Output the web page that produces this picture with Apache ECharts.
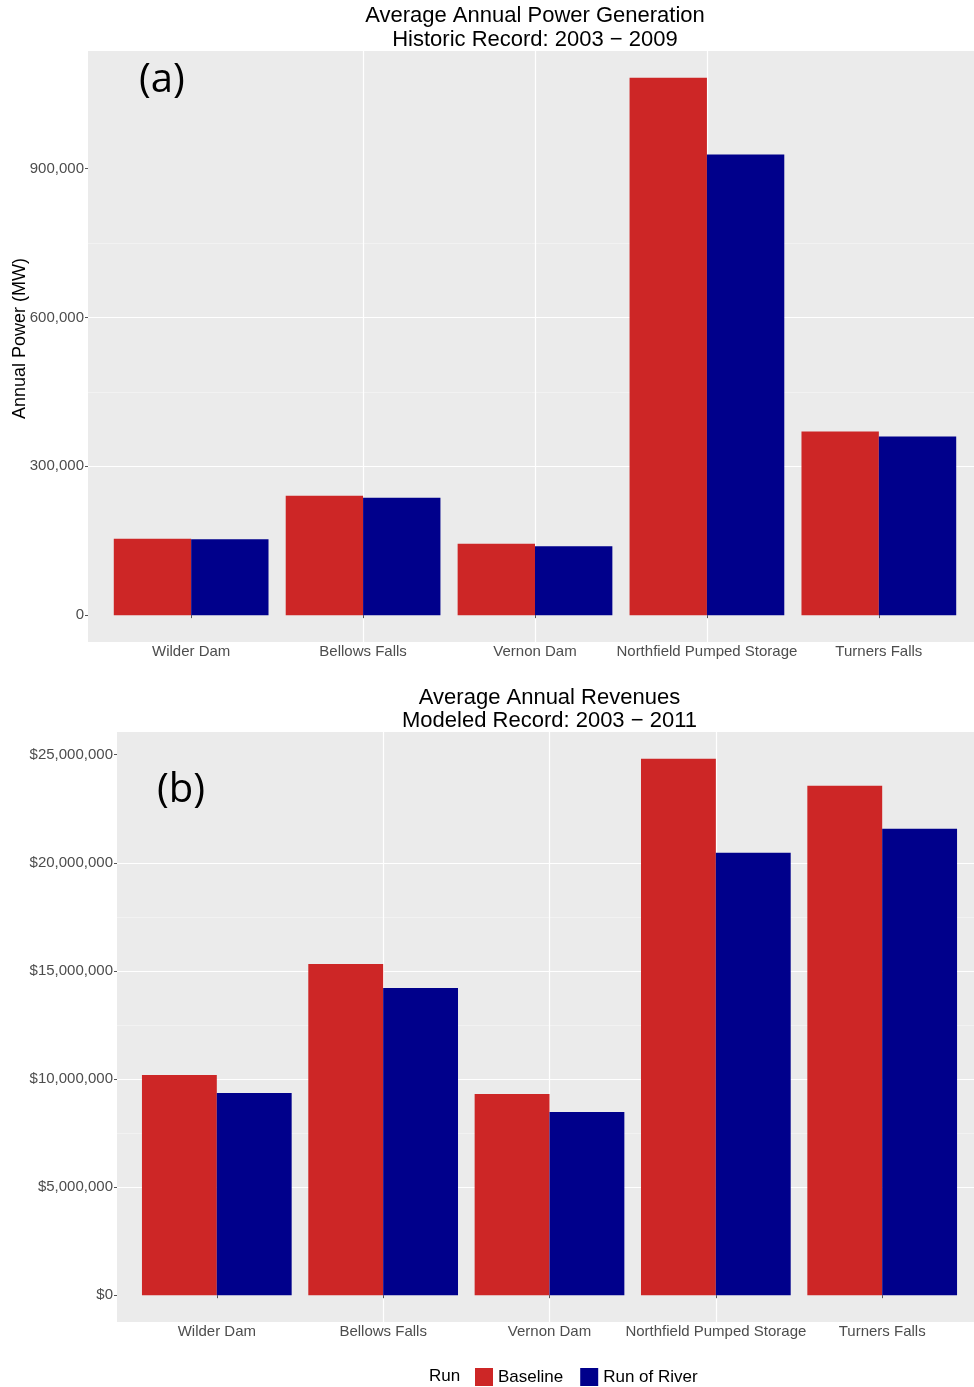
<!DOCTYPE html>
<html>
<head>
<meta charset="utf-8">
<script src="https://cdn.jsdelivr.net/npm/echarts@6/dist/echarts.min.js"></script>
<style>
  html, body { margin: 0; padding: 0; background: #ffffff; }
  #chart { width: 974px; height: 1387px; }
</style>
</head>
<body>
<div id="chart"></div>
<script>
// Hydro facilities along the river
const categories = ['Wilder Dam', 'Bellows Falls', 'Vernon Dam', 'Northfield Pumped Storage', 'Turners Falls'];
const seriesNames = ['Baseline', 'Run of River'];

// (a) Average annual power generation, MW (2003 - 2009)
const powerBaseline    = [154000, 240700, 143900, 1082600, 369900];
const powerRunOfRiver  = [153000, 236700, 138600,  928200, 359800];
const powerTicks       = [0, 300000, 600000, 900000];
const powerMinorTicks  = [150000, 450000, 750000, 1050000];

// (b) Average annual revenues, USD (2003 - 2011)
const revenueBaseline   = [10190000, 15320000, 9310000, 24810000, 23560000];
const revenueRunOfRiver = [ 9350000, 14210000, 8470000, 20460000, 21570000];
const revenueTicks      = [0, 5000000, 10000000, 15000000, 20000000, 25000000];
const revenueMinorTicks = [2500000, 7500000, 12500000, 17500000, 22500000];

const RED = '#CD2626';
const BLUE = '#00008B';
const PANEL = '#EBEBEB';
const TICK_TEXT = '#4D4D4D';
const FONT = '"Liberation Sans", Arial, sans-serif';

const catIdx = categories.map((_, i) => i);

// value-type x axis so the panel keeps 0.6 category of padding on each side
function xAxisFor(gridIndex) {
  return {
    gridIndex: gridIndex,
    type: 'value',
    min: -0.6,
    max: categories.length - 1 + 0.6,
    minInterval: 1,
    maxInterval: 1,
    axisLine: { show: false },
    axisTick: { show: true, length: 3, customValues: catIdx, lineStyle: { color: '#555555', width: 1 } },
    axisLabel: {
      customValues: catIdx,
      formatter: v => categories[Math.round(v)],
      color: TICK_TEXT, fontSize: 15, fontFamily: FONT, margin: 2
    },
    splitLine: { show: true, showMinLine: false, showMaxLine: false, lineStyle: { color: '#ffffff', width: 1.2 } }
  };
}

function yAxesFor(gridIndex, values, ticks, minorTicks, fmt, extra) {
  const top = Math.max.apply(null, values);
  const lo = -0.05 * top, hi = 1.05 * top;
  const step = ticks[1] - ticks[0];
  const minor = {
    gridIndex: gridIndex,
    type: 'value',
    position: 'left',
    min: lo, max: hi,
    axisLine: { show: false },
    axisTick: { show: false, customValues: minorTicks },
    axisLabel: { show: false, customValues: minorTicks },
    splitLine: { show: true, showMinLine: false, showMaxLine: false, lineStyle: { color: '#F5F5F5', width: 0.7 } }
  };
  const major = Object.assign({
    gridIndex: gridIndex,
    type: 'value',
    position: 'left',
    offset: 0,
    min: lo, max: hi,
    minInterval: step, maxInterval: step,
    axisLine: { show: false },
    axisTick: { show: true, length: 3, customValues: ticks, lineStyle: { color: '#555555', width: 1 } },
    axisLabel: { customValues: ticks, formatter: fmt, color: TICK_TEXT, fontSize: 15, fontFamily: FONT, margin: 4 },
    splitLine: { show: true, showMinLine: false, showMaxLine: false, lineStyle: { color: '#ffffff', width: 1.2 } }
  }, extra || {});
  return [minor, major];
}

function barSeries(name, values, xi, yi, color) {
  return {
    type: 'bar',
    name: name,
    xAxisIndex: xi,
    yAxisIndex: yi,
    barWidth: '45%',
    barGap: '0%',
    itemStyle: { color: color },
    emphasis: { disabled: true },
    data: values.map((v, i) => [i, v]),
    z: 3
  };
}

const num = v => Math.round(v).toLocaleString('en-US');
const usd = v => '$' + Math.round(v).toLocaleString('en-US');

const yAxesTop = yAxesFor(0, powerBaseline.concat(powerRunOfRiver), powerTicks, powerMinorTicks, num, {
  name: 'Annual Power (MW)',
  nameLocation: 'middle',
  nameGap: 59,
  nameRotate: 90,
  nameMoveOverlap: false,
  nameTextStyle: { color: '#000000', fontSize: 18, fontFamily: FONT, padding: [0, 0, 0, 16] }
});
const yAxesBottom = yAxesFor(1, revenueBaseline.concat(revenueRunOfRiver), revenueTicks, revenueMinorTicks, usd);

const chart = echarts.init(document.getElementById('chart'), null, { renderer: 'canvas' });

chart.setOption({
  animation: false,
  backgroundColor: '#ffffff',
  textStyle: { fontFamily: FONT },
  title: [
    {
      text: 'Average Annual Power Generation\nHistoric Record: 2003 \u2212 2009',
      left: 535, top: 4, textAlign: 'center', padding: 0,
      textStyle: { color: '#000000', fontSize: 22, fontWeight: 'normal', fontFamily: FONT, lineHeight: 24 }
    },
    {
      text: 'Average Annual Revenues\nModeled Record: 2003 \u2212 2011',
      left: 549.5, top: 686, textAlign: 'center', padding: 0,
      textStyle: { color: '#000000', fontSize: 22, fontWeight: 'normal', fontFamily: FONT, lineHeight: 23 }
    }
  ],
  grid: [
    { left: 88, top: 51, width: 894, height: 591, show: true, backgroundColor: PANEL, borderWidth: 0, outerBoundsMode: 'none', containLabel: false },
    { left: 117, top: 732, width: 865, height: 590, show: true, backgroundColor: PANEL, borderWidth: 0, outerBoundsMode: 'none', containLabel: false }
  ],
  xAxis: [xAxisFor(0), xAxisFor(1)],
  yAxis: [yAxesTop[0], yAxesTop[1], yAxesBottom[0], yAxesBottom[1]],
  legend: {
    data: seriesNames,
    left: 475, top: 1368,
    icon: 'rect',
    itemWidth: 18, itemHeight: 18, itemGap: 17,
    selectedMode: false,
    padding: 0,
    textStyle: { color: '#000000', fontSize: 17, fontFamily: FONT }
  },
  graphic: [
    { type: 'text', left: 429, top: 1368, style: { text: 'Run', fill: '#000000', font: '17px ' + FONT } },
    { type: 'text', left: 139, top: 61, style: { text: '(a)', fill: '#000000', font: '40px "Open Sans", sans-serif' } },
    { type: 'text', left: 157, top: 771, style: { text: '(b)', fill: '#000000', font: '40px "Open Sans", sans-serif' } }
  ],
  series: [
    barSeries(seriesNames[0], powerBaseline, 0, 1, RED),
    barSeries(seriesNames[1], powerRunOfRiver, 0, 1, BLUE),
    barSeries(seriesNames[0], revenueBaseline, 1, 3, RED),
    barSeries(seriesNames[1], revenueRunOfRiver, 1, 3, BLUE)
  ]
});
</script>
</body>
</html>
